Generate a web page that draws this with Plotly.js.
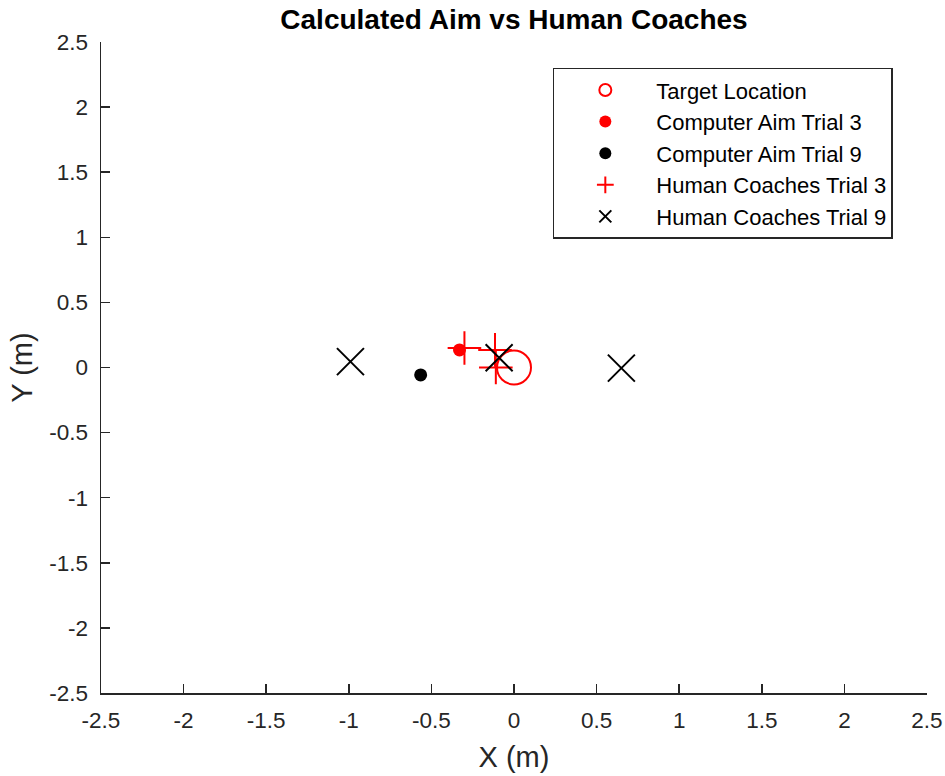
<!DOCTYPE html>
<html>
<head>
<meta charset="utf-8">
<script src="https://cdn.plot.ly/plotly-3.0.1.min.js"></script>
<style>
  html, body { margin: 0; padding: 0; background: #ffffff; }
  #chart { width: 945px; height: 776px; }
</style>
</head>
<body>
<div id="chart"></div>
<script>
// Target position (m)
const targetX = [0];
const targetY = [0];

// Computed aim points (m)
const compTrial3X = [-0.33];
const compTrial3Y = [0.135];
const compTrial9X = [-0.565];
const compTrial9Y = [-0.057];

// Human coaches' aim points (m)
const humanTrial3X = [-0.30, -0.115, -0.11];
const humanTrial3Y = [0.15, 0.135, 0.0];
const humanTrial9X = [-0.99, -0.09, 0.65];
const humanTrial9Y = [0.045, 0.075, -0.005];

const tickVals = [-2.5, -2, -1.5, -1, -0.5, 0, 0.5, 1, 1.5, 2, 2.5];
const tickText = ['-2.5', '-2', '-1.5', '-1', '-0.5', '0', '0.5', '1', '1.5', '2', '2.5'];

const RED = '#ff0000';
const BLACK = '#000000';
const AXIS = '#262626';
const FONT = 'Liberation Sans, Arial, Helvetica, sans-serif';

const traces = [
  {
    name: 'Target Location', x: targetX, y: targetY, type: 'scatter', mode: 'markers',
    marker: { symbol: 'circle-open', size: 34, color: RED, line: { color: RED, width: 2 } }
  },
  {
    name: 'Computer Aim Trial 3', x: compTrial3X, y: compTrial3Y, type: 'scatter', mode: 'markers',
    marker: { symbol: 'circle', size: 13, color: RED }
  },
  {
    name: 'Computer Aim Trial 9', x: compTrial9X, y: compTrial9Y, type: 'scatter', mode: 'markers',
    marker: { symbol: 'circle', size: 13, color: BLACK }
  },
  {
    name: 'Human Coaches Trial 3', x: humanTrial3X, y: humanTrial3Y, type: 'scatter', mode: 'markers',
    marker: { symbol: 'cross-thin', size: 24, color: RED, line: { color: RED, width: 2 } }
  },
  {
    name: 'Human Coaches Trial 9', x: humanTrial9X, y: humanTrial9Y, type: 'scatter', mode: 'markers',
    marker: { symbol: 'x-thin', size: 27, color: BLACK, line: { color: BLACK, width: 2 } }
  }
];

const axisCommon = {
  tickmode: 'array',
  tickvals: tickVals,
  ticktext: tickText,
  ticks: 'inside',
  ticklen: 9,
  tickwidth: 1.5,
  tickcolor: AXIS,
  showline: true,
  linecolor: AXIS,
  linewidth: 1.5,
  mirror: false,
  showgrid: false,
  zeroline: false,
  tickfont: { family: FONT, size: 22.5, color: AXIS },
  fixedrange: true
};

const layout = {
  width: 945,
  height: 776,
  margin: { l: 101, r: 18, t: 42, b: 83, pad: 0 },
  paper_bgcolor: '#ffffff',
  plot_bgcolor: '#ffffff',
  font: { family: FONT, color: BLACK },
  title: {
    text: '<b>Calculated Aim vs Human Coaches</b>',
    font: { family: FONT, size: 28, color: BLACK },
    x: 0.5, xref: 'paper', xanchor: 'center',
    y: 1, yref: 'container', yanchor: 'top', pad: { t: 9 }
  },
  xaxis: Object.assign({}, axisCommon, {
    range: [-2.5, 2.5],
    ticklabelstandoff: 6,
    title: { text: 'X (m)', font: { family: FONT, size: 29, color: AXIS }, standoff: 15 }
  }),
  yaxis: Object.assign({}, axisCommon, {
    range: [-2.5, 2.5],
    ticklabelstandoff: 7,
    title: { text: 'Y (m)', font: { family: FONT, size: 29, color: AXIS }, standoff: 8 }
  }),
  showlegend: true,
  legend: {
    x: 0.547, xanchor: 'left',
    y: 0.9605, yanchor: 'top',
    bgcolor: '#ffffff',
    bordercolor: AXIS,
    borderwidth: 1.5,
    font: { family: FONT, size: 22, color: BLACK },
    itemsizing: 'constant',
    itemwidth: 92,
    tracegroupgap: 0
  }
};

Plotly.newPlot('chart', traces, layout, { displayModeBar: false, staticPlot: true });
</script>
</body>
</html>
